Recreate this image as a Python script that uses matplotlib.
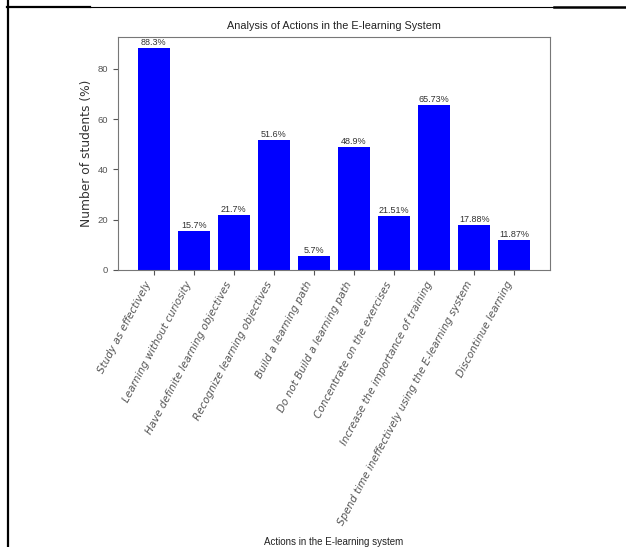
import matplotlib
matplotlib.use('Agg')
import matplotlib.pyplot as plt
from matplotlib.lines import Line2D

# data
actions = ['Study as effectively',
           'Learning without curiosity',
           'Have definite learning objectives',
           'Recognize learning objectives',
           'Build a learning path',
           'Do not Build a learning path',
           'Concentrate on the exercises',
           'Increase the importance of training',
           'Spend time ineffectively using the E-learning system',
           'Discontinue learning']
percent = [88.3, 15.7, 21.7, 51.6, 5.7, 48.9, 21.51, 65.73, 17.88, 11.87]
percent_labels = ['88.3%', '15.7%', '21.7%', '51.6%', '5.7%', '48.9%',
                  '21.51%', '65.73%', '17.88%', '11.87%']

narrow = 'Liberation Sans'  # no condensed font available, this is the closest

fig = plt.figure(figsize=(6.26, 5.47), dpi=100)
ax = fig.add_axes([0.1885, 0.5064, 0.690, 0.426])

bars = ax.bar(range(len(actions)), percent, color='blue', width=0.8)
for b, lab in zip(bars, percent_labels):
    ax.text(b.get_x() + b.get_width() / 2, b.get_height() + 0.4, lab,
            ha='center', va='bottom', fontsize=6.5, family=narrow, color='#333333')

ax.set_title('Analysis of Actions in the E-learning System', fontsize=7.8,
             family=narrow, color='#222222', pad=6)
ax.set_xlabel('Actions in the E-learning system', fontsize=7, family=narrow,
              color='#222222', labelpad=7)
ax.set_ylabel('Number of students (%)', fontsize=8.8, color='#333333', labelpad=3)

ax.set_xticks(range(len(actions)))
ax.set_xticklabels(actions, rotation=62, ha='right', fontsize=7.5,
                   fontstyle='oblique', color='#333333')
ax.set_yticks([0, 20, 40, 60, 80])
for t in ax.get_yticklabels():
    t.set_family(narrow)
    t.set_fontsize(6.8)
    t.set_color('#333333')
ax.tick_params(colors='#555555', length=3.5, width=0.8)
for s in ax.spines.values():
    s.set_color('#777777')
    s.set_linewidth(0.8)

# document table borders around the figure
fig.add_artist(Line2D([7.5 / 626, 7.5 / 626], [0, 1], color='black', lw=1.6))
fig.add_artist(Line2D([7 / 626, 90 / 626], [1 - 6.5 / 547] * 2, color='black', lw=1.6))
fig.add_artist(Line2D([90 / 626, 554 / 626], [1 - 6.5 / 547] * 2, color='black', lw=0.8))
fig.add_artist(Line2D([554 / 626, 1], [1 - 6.5 / 547] * 2, color='black', lw=1.8))

fig.savefig('out.png', dpi=100)
